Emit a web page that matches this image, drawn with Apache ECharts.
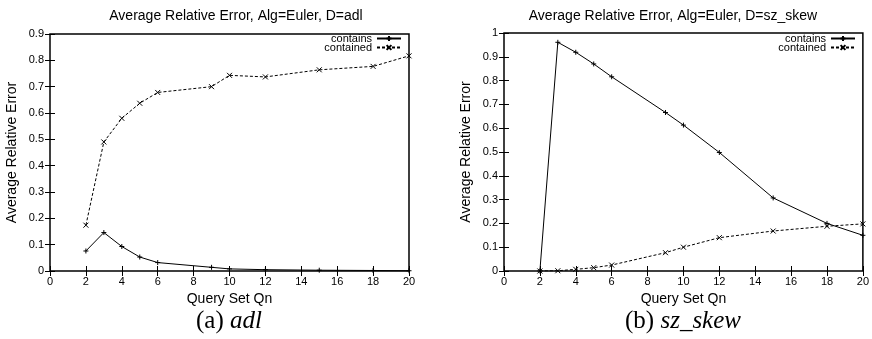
<!DOCTYPE html>
<html>
<head>
<meta charset="utf-8">
<script src="https://cdn.jsdelivr.net/npm/echarts@6/dist/echarts.min.js"></script>
<style>
  html, body { margin: 0; padding: 0; background: #fff; }
  #chart { width: 872px; height: 339px; }
</style>
</head>
<body>
<div id="chart"></div>
<script>
// query set sizes (x axis)
const querySets = [2, 3, 4, 5, 6, 9, 10, 12, 15, 18, 20];

// (a) adl
const adlContains = [0.076, 0.146, 0.093, 0.053, 0.032, 0.014, 0.008, 0.005, 0.003, 0.002, 0.001];
const adlContained = [0.174, 0.49, 0.58, 0.637, 0.678, 0.70, 0.743, 0.737, 0.764, 0.777, 0.817];

// (b) sz_skew
const skewContains = [0, 0.961, 0.919, 0.87, 0.816, 0.666, 0.613, 0.498, 0.307, 0.2, 0.15];
const skewContained = [0, 0.001, 0.007, 0.014, 0.025, 0.077, 0.1, 0.14, 0.168, 0.188, 0.198];

const titles = ["Average Relative Error, Alg=Euler, D=adl", "Average Relative Error, Alg=Euler, D=sz_skew"];
const captions = [["(a) ", "adl"], ["(b) ", "sz_skew"]];

const FONT = "Liberation Sans";
const plusSym = "path://M0,5L10,5M5,0L5,10";
const crossSym = "path://M0,0L10,10M10,0L0,10";

const pair = (xs, ys) => xs.map((x, i) => [x, ys[i]]);

const chart = echarts.init(document.getElementById("chart"));

const grids = [
  { left: 50, right: 463, top: 34, bottom: 68 },
  { left: 504, right: 9, top: 33, bottom: 68 }
];
const yMax = [0.9, 1];

const xAxes = [];
const yAxes = [];
grids.forEach((g, i) => {
  // bottom axis with labels
  xAxes.push({
    gridIndex: i, type: "value", min: 0, max: 20, interval: 2,
    name: "Query Set Qn", nameLocation: "middle", nameGap: 21,
    nameTextStyle: { fontFamily: FONT, fontSize: 14, color: "#000" },
    axisLine: { show: false },
    axisTick: { inside: true, length: 5, lineStyle: { color: "#000" } },
    axisLabel: { fontFamily: FONT, fontSize: 11, color: "#000", margin: 5 },
    splitLine: { show: false }
  });
  // top mirror ticks
  xAxes.push({
    gridIndex: i, type: "value", min: 0, max: 20, interval: 2, position: "top",
    axisLine: { show: false },
    axisTick: { inside: true, length: 5, lineStyle: { color: "#000" } },
    axisLabel: { show: false },
    splitLine: { show: false }
  });
  yAxes.push({
    gridIndex: i, type: "value", min: 0, max: yMax[i], interval: 0.1,
    name: "Average Relative Error", nameLocation: "middle", nameGap: 31,
    nameTextStyle: { fontFamily: FONT, fontSize: 14, color: "#000" },
    axisLine: { show: false },
    axisTick: { inside: true, length: 5, lineStyle: { color: "#000" } },
    axisLabel: {
      fontFamily: FONT, fontSize: 11, color: "#000", margin: 6,
      formatter: v => (Math.round(v * 10) / 10).toString()
    },
    splitLine: { show: false }
  });
  yAxes.push({
    gridIndex: i, type: "value", min: 0, max: yMax[i], interval: 0.1, position: "right",
    axisLine: { show: false },
    axisTick: { inside: true, length: 5, lineStyle: { color: "#000" } },
    axisLabel: { show: false },
    splitLine: { show: false }
  });
});

const mkSeries = (name, data, gi, dashed) => ({
  name, type: "line", data,
  xAxisIndex: gi * 2, yAxisIndex: gi * 2,
  symbol: dashed ? crossSym : plusSym,
  symbolSize: 5,
  lineStyle: { color: "#000", width: 1, type: dashed ? [3, 2] : "solid" },
  itemStyle: { color: "transparent", borderColor: "#000", borderWidth: 1 },
  animation: false, silent: true
});

const option = {
  animation: false,
  backgroundColor: "#fff",
  title: titles.map((t, i) => ({
    text: t, left: i === 0 ? 231 : 668, top: 4, textAlign: "center",
    textStyle: { fontFamily: FONT, fontSize: 14, fontWeight: "normal", color: "#000" }
  })),
  legend: [0, 1].map(i => ({
    orient: "vertical", right: i === 0 ? 470 : 16, top: 33, align: "right",
    itemWidth: 24, itemHeight: 6, itemGap: -2, padding: 0,
    data: ["contains", "contained"],
    textStyle: { fontFamily: FONT, fontSize: 11, color: "#000", padding: [0, 0, 0, 0] }
  })),
  grid: grids.map(g => Object.assign({ show: true, borderColor: "#000", borderWidth: 1.5, backgroundColor: "transparent" }, g)),
  xAxis: xAxes,
  yAxis: yAxes,
  series: [
    mkSeries("contains", pair(querySets, adlContains), 0, false),
    mkSeries("contained", pair(querySets, adlContained), 0, true),
    mkSeries("contains", pair(querySets, skewContains), 1, false),
    mkSeries("contained", pair(querySets, skewContained), 1, true)
  ],
  graphic: captions.map((c, i) => ({
    type: "text", x: i === 0 ? 229 : 683, y: 309,
    style: {
      text: "{n|" + c[0] + "}{i|" + c[1] + "}",
      align: "center", verticalAlign: "top",
      rich: {
        n: { fontFamily: "Liberation Serif", fontSize: 25, fill: "#000" },
        i: { fontFamily: "Liberation Serif", fontSize: 25, fontStyle: "italic", fill: "#000" }
      }
    }
  }))
};

chart.setOption(option);
</script>
</body>
</html>
